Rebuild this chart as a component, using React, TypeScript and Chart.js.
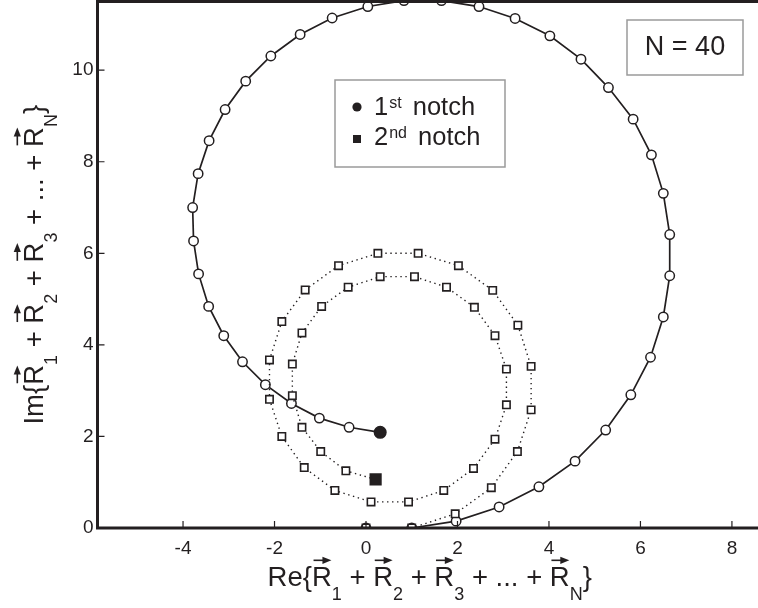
import React, { useEffect, useRef } from 'react';
import { Chart, registerables } from 'chart.js';

Chart.register(...registerables);

// ---- data ----
const notch1X = [0, 1, 1.97, 2.91, 3.78, 4.57, 5.24, 5.79, 6.22, 6.5, 6.64, 6.64, 6.5, 6.24, 5.84, 5.3, 4.7, 4.02, 3.26, 2.47, 1.65, 0.83, 0.04, -0.74, -1.44, -2.08, -2.63, -3.08, -3.43, -3.67, -3.79, -3.77, -3.66, -3.44, -3.11, -2.7, -2.2, -1.63, -1.02, -0.37, 0.31];
const notch1Y = [0, 0, 0.15, 0.46, 0.9, 1.46, 2.14, 2.91, 3.73, 4.61, 5.51, 6.41, 7.31, 8.15, 8.93, 9.62, 10.24, 10.75, 11.13, 11.39, 11.52, 11.52, 11.39, 11.14, 10.78, 10.31, 9.76, 9.14, 8.46, 7.74, 7.0, 6.27, 5.55, 4.84, 4.2, 3.63, 3.13, 2.72, 2.4, 2.2, 2.09];
const notch2X = [0, 1, 1.95, 2.74, 3.31, 3.61, 3.61, 3.32, 2.77, 2.02, 1.14, 0.26, -0.6, -1.33, -1.84, -2.11, -2.11, -1.84, -1.35, -0.68, 0.11, 0.93, 1.7, 2.35, 2.82, 3.07, 3.07, 2.82, 2.37, 1.76, 1.06, 0.31, -0.39, -0.97, -1.4, -1.61, -1.61, -1.4, -0.99, -0.44, 0.21];
const notch2Y = [0, 0, 0.31, 0.88, 1.67, 2.58, 3.53, 4.43, 5.19, 5.73, 6.0, 6.0, 5.73, 5.2, 4.51, 3.67, 2.81, 2.0, 1.32, 0.82, 0.57, 0.57, 0.82, 1.3, 1.94, 2.69, 3.47, 4.2, 4.82, 5.26, 5.49, 5.49, 5.26, 4.84, 4.26, 3.58, 2.89, 2.2, 1.67, 1.25, 1.06];
const seriesLabels = ['1st notch', '2nd notch'];
const xTicks = [-4, -2, 0, 2, 4, 6, 8];
const yTicks = [0, 2, 4, 6, 8, 10];
const xMin = -5.87;
const xMax = 8.57;
const yMin = 0;
const yMax = 11.5;
const nLabel = 'N = 40';

type Part = { t: string; k?: 'sub' | 'sup' | 'vec'; gap?: number };
const xTitleParts: Part[] = [
  { t: 'Re{' }, { t: 'R', k: 'vec' }, { t: '1', k: 'sub' }, { t: ' + ' },
  { t: 'R', k: 'vec' }, { t: '2', k: 'sub' }, { t: ' + ' },
  { t: 'R', k: 'vec' }, { t: '3', k: 'sub' }, { t: ' + ... + ' },
  { t: 'R', k: 'vec' }, { t: 'N', k: 'sub' }, { t: '}' },
];
const yTitleParts: Part[] = [
  { t: 'Im{' }, { t: 'R', k: 'vec' }, { t: '1', k: 'sub' }, { t: ' + ' },
  { t: 'R', k: 'vec' }, { t: '2', k: 'sub' }, { t: ' + ' },
  { t: 'R', k: 'vec' }, { t: '3', k: 'sub' }, { t: ' + ... + ' },
  { t: 'R', k: 'vec' }, { t: 'N', k: 'sub' }, { t: '}' },
];
const legend1Parts: Part[] = [{ t: '1', gap: 1 }, { t: 'st', k: 'sup', gap: 4 }, { t: ' notch' }];
const legend2Parts: Part[] = [{ t: '2', gap: 1 }, { t: 'nd', k: 'sup', gap: 4 }, { t: ' notch' }];

const FONT = "'Liberation Sans', Arial, Helvetica, sans-serif";
const INK = '#231f20';

function partsWidth(ctx: CanvasRenderingContext2D, parts: Part[], size: number, small: number) {
  let w = 0;
  for (const p of parts) {
    const s = p.k === 'sub' || p.k === 'sup' ? small : size;
    ctx.font = `${s}px ${FONT}`;
    w += ctx.measureText(p.t).width + (p.gap || 0);
  }
  return w;
}

function drawParts(
  ctx: CanvasRenderingContext2D,
  parts: Part[],
  x: number,
  y: number,
  size: number,
  small: number,
  subDy: number,
  supDy: number
) {
  let cx = x;
  ctx.textAlign = 'left';
  ctx.textBaseline = 'alphabetic';
  ctx.fillStyle = INK;
  ctx.strokeStyle = INK;
  for (const p of parts) {
    const isSmall = p.k === 'sub' || p.k === 'sup';
    ctx.font = `${isSmall ? small : size}px ${FONT}`;
    const w = ctx.measureText(p.t).width;
    const dy = p.k === 'sub' ? subDy : p.k === 'sup' ? -supDy : 0;
    ctx.fillText(p.t, cx, y + dy);
    if (p.k === 'vec') {
      const ay = y - size * 0.716 - 6;
      const x0 = cx + w * 0.08;
      const x1 = cx + w * 0.98;
      ctx.beginPath();
      ctx.lineWidth = 1.6;
      ctx.moveTo(x0, ay);
      ctx.lineTo(x1 - 5, ay);
      ctx.stroke();
      ctx.beginPath();
      ctx.moveTo(x1, ay);
      ctx.lineTo(x1 - 9, ay - 3.6);
      ctx.lineTo(x1 - 9, ay + 3.6);
      ctx.closePath();
      ctx.fill();
    }
    cx += w + (p.gap || 0);
  }
}

const decorPlugin = {
  id: 'decor',
  afterDatasetsDraw(chart: any) {
    const { ctx, chartArea } = chart;
    const xs = chart.scales.x;
    const ys = chart.scales.y;
    ctx.save();
    ctx.strokeStyle = INK;
    ctx.lineWidth = 3;
    ctx.beginPath();
    ctx.moveTo(chartArea.right + 5, chartArea.top);
    ctx.lineTo(chartArea.left, chartArea.top);
    ctx.lineTo(chartArea.left, chartArea.bottom);
    ctx.lineTo(chartArea.right + 5, chartArea.bottom);
    ctx.stroke();
    ctx.lineWidth = 1.2;
    ctx.beginPath();
    for (const v of xTicks) {
      const px = xs.getPixelForValue(v);
      ctx.moveTo(px, chartArea.bottom);
      ctx.lineTo(px, chartArea.bottom - 7);
    }
    for (const v of yTicks) {
      const py = ys.getPixelForValue(v);
      ctx.moveTo(chartArea.left, py);
      ctx.lineTo(chartArea.left + 7, py);
    }
    ctx.stroke();
    ctx.restore();
  },
  afterDraw(chart: any) {
    const { ctx, chartArea } = chart;
    ctx.save();
    const size = 27.5;
    const small = 18;
    const wx = partsWidth(ctx, xTitleParts, size, small);
    const cxTitle = (chartArea.left + chartArea.right) / 2 + 2;
    drawParts(ctx, xTitleParts, cxTitle - wx / 2, 586, size, small, 14, 0);
    const wy = partsWidth(ctx, yTitleParts, size, small);
    const cyTitle = (chartArea.top + chartArea.bottom) / 2;
    ctx.save();
    ctx.translate(43, cyTitle);
    ctx.rotate(-Math.PI / 2);
    drawParts(ctx, yTitleParts, -wy / 2, 0, size, small, 14, 0);
    ctx.restore();

    // legend box
    ctx.fillStyle = '#fff';
    ctx.fillRect(335, 80, 170, 87);
    ctx.strokeStyle = '#9a9a9a';
    ctx.lineWidth = 1.5;
    ctx.strokeRect(335, 80, 170, 87);
    ctx.fillStyle = INK;
    ctx.beginPath();
    ctx.arc(357, 107, 4.6, 0, Math.PI * 2);
    ctx.fill();
    ctx.fillRect(353, 135, 8, 8);
    drawParts(ctx, legend1Parts, 374, 115, 25.5, 16, 0, 7);
    drawParts(ctx, legend2Parts, 374, 145, 25.5, 16, 0, 7);

    // N box
    ctx.fillStyle = '#fff';
    ctx.fillRect(627, 20, 116, 55);
    ctx.strokeStyle = '#9a9a9a';
    ctx.lineWidth = 1.5;
    ctx.strokeRect(627, 20, 116, 55);
    ctx.fillStyle = INK;
    ctx.font = `27px ${FONT}`;
    ctx.textAlign = 'center';
    ctx.textBaseline = 'alphabetic';
    ctx.fillText(nLabel, 685, 55);
    ctx.restore();
  },
};

const zeroPad = (s: any) => {
  s.paddingTop = 0;
  s.paddingBottom = 0;
  s.paddingLeft = 0;
  s.paddingRight = 0;
};

export default function App() {
  const ref = useRef<HTMLCanvasElement | null>(null);
  useEffect(() => {
    if (!ref.current) return;
    const last1 = notch1X.length - 1;
    const last2 = notch2X.length - 1;
    const chart = new Chart(ref.current, {
      type: 'scatter',
      data: {
        datasets: [
          {
            label: seriesLabels[0],
            data: notch1X.map((x, i) => ({ x, y: notch1Y[i] })),
            showLine: true,
            borderColor: INK,
            borderWidth: 1.7,
            pointStyle: 'circle',
            pointRadius: (c: any) => (c.dataIndex === last1 ? 5.8 : 4.7),
            pointBackgroundColor: (c: any) => (c.dataIndex === last1 ? INK : '#ffffff'),
            pointBorderColor: INK,
            pointBorderWidth: 1.5,
            order: 1,
          },
          {
            label: seriesLabels[1],
            data: notch2X.map((x, i) => ({ x, y: notch2Y[i] })),
            showLine: true,
            borderColor: INK,
            borderWidth: 1.4,
            borderDash: [1.4, 3.6],
            pointStyle: 'rect',
            pointRadius: (c: any) => (c.dataIndex === last2 ? 7.5 : 5.2),
            pointBackgroundColor: (c: any) => (c.dataIndex === last2 ? INK : '#ffffff'),
            pointBorderColor: INK,
            pointBorderWidth: 1.6,
            order: 0,
          },
        ],
      },
      options: {
        animation: false,
        responsive: false,
        devicePixelRatio: 1,
        layout: { autoPadding: false, padding: { top: 1.5, right: 0, bottom: 0, left: 0 } },
        plugins: {
          legend: { display: false },
          tooltip: { enabled: false },
        },
        scales: {
          x: {
            type: 'linear',
            position: 'bottom',
            min: xMin,
            max: xMax,
            grid: { display: false, drawTicks: false },
            border: { display: false },
            afterBuildTicks: (s: any) => {
              s.ticks = xTicks.map((v) => ({ value: v }));
            },
            afterFit: (s: any) => {
              s.height = 80;
              zeroPad(s);
            },
            ticks: {
              color: INK,
              padding: 9,
              font: { family: FONT, size: 19 },
              maxRotation: 0,
              autoSkip: false,
            },
          },
          y: {
            type: 'linear',
            position: 'left',
            min: yMin,
            max: yMax,
            grid: { display: false, drawTicks: false },
            border: { display: false },
            afterBuildTicks: (s: any) => {
              s.ticks = yTicks.map((v) => ({ value: v }));
            },
            afterFit: (s: any) => {
              s.width = 97.5;
              zeroPad(s);
            },
            ticks: {
              color: INK,
              padding: 4,
              font: { family: FONT, size: 19 },
              autoSkip: false,
            },
          },
        },
      },
      plugins: [decorPlugin],
    } as any);
    return () => chart.destroy();
  }, []);
  return (
    <div style={{ position: 'fixed', left: 0, top: 0, width: 758, height: 608, overflow: 'hidden', background: '#fff' }}>
      <canvas ref={ref} width={758} height={608} style={{ width: 758, height: 608, display: 'block' }} />
    </div>
  );
}
